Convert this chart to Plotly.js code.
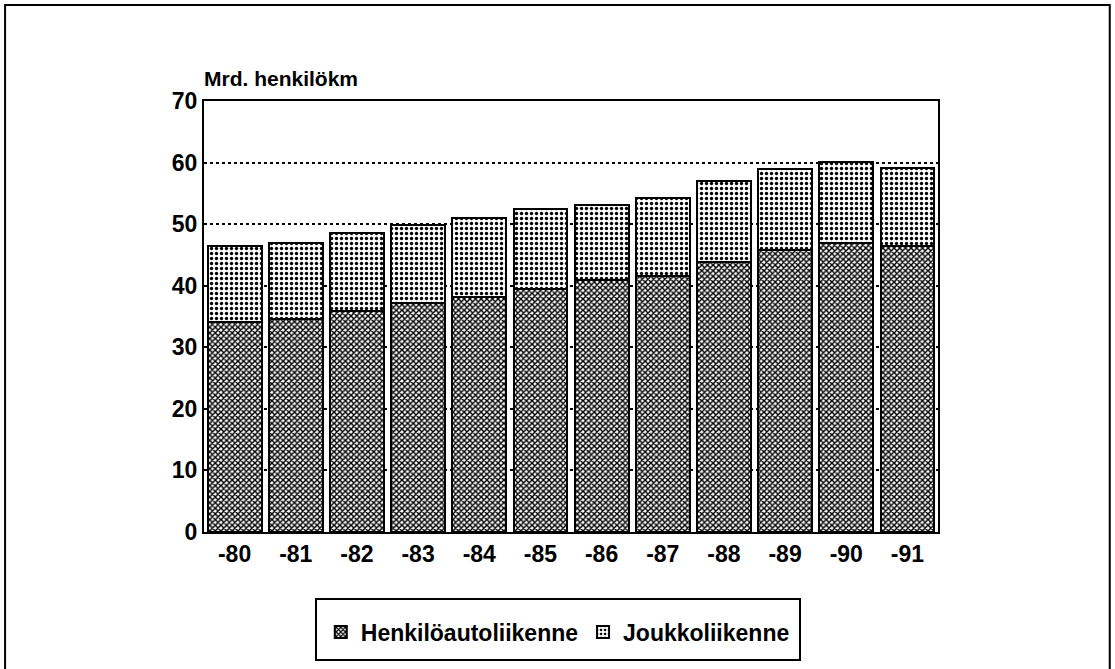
<!DOCTYPE html>
<html>
<head>
<meta charset="utf-8">
<script src="https://cdn.plot.ly/plotly-3.0.1.min.js"></script>
<style>
html,body{margin:0;padding:0;background:#fff;}
#chart{width:1115px;height:669px;}
</style>
</head>
<body>
<div id="chart"></div>
<script>
const years = ['-80','-81','-82','-83','-84','-85','-86','-87','-88','-89','-90','-91'];
const henkiloauto = [34.1, 34.6, 35.9, 37.2, 38.2, 39.5, 40.9, 41.6, 43.9, 45.8, 46.9, 46.5];
const joukko = [12.3, 12.4, 12.6, 12.7, 12.8, 13.0, 12.2, 12.7, 13.1, 13.1, 13.2, 12.6];
const seriesNames = ['Henkilöautoliikenne', 'Joukkoliikenne'];
const yTitle = 'Mrd. henkilökm';

const FONT = 'Liberation Sans, Arial, sans-serif';

const traces = [
  {
    type: 'bar', name: seriesNames[0], x: years, y: henkiloauto,
    marker: {
      color: 'white',
      line: {color: 'black', width: 2},
      pattern: {shape: 'x', fillmode: 'replace', bgcolor: 'white', fgcolor: 'black', size: 4, solidity: 0.6}
    }
  },
  {
    type: 'bar', name: seriesNames[1], x: years, y: joukko,
    marker: {
      color: 'white',
      line: {color: 'black', width: 2},
      pattern: {shape: '.', fillmode: 'replace', bgcolor: 'white', fgcolor: 'black', size: 5, solidity: 0.35}
    }
  }
];

const layout = {
  width: 1115, height: 669,
  margin: {l: 204, r: 177, t: 101, b: 137},
  paper_bgcolor: 'white', plot_bgcolor: 'white',
  barmode: 'stack', bargap: 0.12,
  font: {family: FONT, color: 'black', size: 23},
  showlegend: true,
  legend: {
    orientation: 'h', x: 0.482, xanchor: 'center', y: -0.232, yanchor: 'middle',
    font: {family: FONT, size: 23, color: 'black', weight: 'bold'},
    bgcolor: 'rgba(0,0,0,0)', traceorder: 'normal', itemwidth: 30
  },
  xaxis: {
    type: 'category', showline: true, mirror: true, linecolor: 'black', linewidth: 2,
    ticks: '', showgrid: false,
    tickfont: {family: FONT, size: 23, color: 'black', weight: 'bold'}
  },
  yaxis: {
    range: [0, 70], dtick: 10, showline: true, mirror: true, linecolor: 'black', linewidth: 2,
    ticks: '', showgrid: true, gridcolor: 'black', gridwidth: 2, griddash: 'dot', zeroline: false,
    tickfont: {family: FONT, size: 23, color: 'black', weight: 'bold'}
  },
  annotations: [
    {text: yTitle, xref: 'paper', yref: 'paper', x: 0, y: 1, xanchor: 'left', yanchor: 'bottom',
     yshift: 9, xshift: -2, showarrow: false, font: {family: FONT, size: 21, color: 'black', weight: 'bold'}}
  ],
  shapes: [
    {type: 'rect', xref: 'paper', yref: 'paper', x0: -0.271, x1: 1.234, y0: -0.343, y1: 1.2227,
     line: {color: 'black', width: 2}, fillcolor: 'rgba(0,0,0,0)', layer: 'below'},
    {type: 'rect', xref: 'paper', yref: 'paper', x0: 0.1526, x1: 0.812, y0: -0.297, y1: -0.1555,
     line: {color: 'black', width: 2}, fillcolor: 'rgba(0,0,0,0)'}
  ]
};

Plotly.newPlot('chart', traces, layout, {staticPlot: true, displayModeBar: false});
</script>
</body>
</html>
